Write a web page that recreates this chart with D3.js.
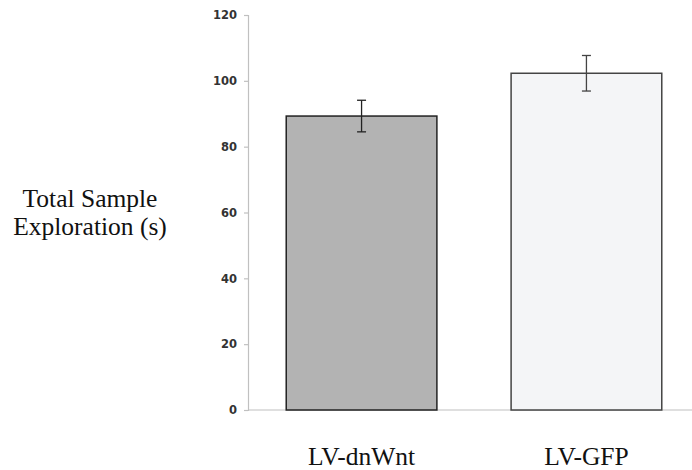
<!DOCTYPE html>
<html>
<head>
<meta charset="utf-8">
<script src="https://cdn.jsdelivr.net/npm/d3@7"></script>
<style>
  html, body { margin: 0; padding: 0; background: #fff; }
  svg { display: block; }
  .serif { font-family: "Liberation Serif", "Times New Roman", Times, serif; }
  .ticklab { font-family: "DejaVu Sans", Verdana, sans-serif; font-weight: bold; }
</style>
</head>
<body>
<svg id="chart" width="692" height="470"></svg>
<script>
// Exploration time per group, with error bars
const categories = ["LV-dnWnt", "LV-GFP"];
const means = [89.3, 102.3];
const errors = [4.8, 5.4];
const yTicks = [0, 20, 40, 60, 80, 100, 120];
const fills = ["#b3b3b3", "#f4f5f7"];
const strokes = ["#222222", "#444444"];

const svg = d3.select("#chart");
const x0 = 248, yTop = 15, yBottom = 410;

const y = d3.scaleLinear().domain([0, 120]).range([yBottom, yTop]);
const x = d3.scaleBand().domain(categories).range([x0, 700])
  .paddingInner(0.33).paddingOuter(0.17);

// Y axis
const yAxis = svg.append("g")
  .attr("transform", `translate(${x0},0)`)
  .call(d3.axisLeft(y).tickValues(yTicks).tickSize(4).tickPadding(7).tickFormat(d3.format("d")));
yAxis.attr("font-family", null).attr("font-size", null);
yAxis.select(".domain").attr("stroke", "#c0c0c0").attr("stroke-width", 1.2);
yAxis.selectAll(".tick line").attr("stroke", "#c0c0c0").attr("stroke-width", 1.2);
yAxis.selectAll(".tick text")
  .attr("class", "ticklab")
  .style("font-size", "11.5px")
  .attr("fill", "#333");

// Baseline
svg.append("line")
  .attr("x1", x0).attr("x2", 692)
  .attr("y1", y(0)).attr("y2", y(0))
  .attr("stroke", "#c0c0c0").attr("stroke-width", 1.2);

// Bars
svg.selectAll("rect.bar")
  .data(categories)
  .join("rect")
  .attr("class", "bar")
  .attr("x", d => x(d))
  .attr("width", x.bandwidth())
  .attr("y", (d, i) => y(means[i]))
  .attr("height", (d, i) => y(0) - y(means[i]))
  .attr("fill", (d, i) => fills[i])
  .attr("stroke", (d, i) => strokes[i])
  .attr("stroke-width", 1.5);

// Error bars
const cap = 4.5;
const eb = svg.selectAll("g.err").data(categories).join("g").attr("class", "err")
  .attr("stroke", (d, i) => strokes[i]).attr("stroke-width", 1.3);
eb.append("line")
  .attr("x1", d => x(d) + x.bandwidth() / 2).attr("x2", d => x(d) + x.bandwidth() / 2)
  .attr("y1", (d, i) => y(means[i] + errors[i])).attr("y2", (d, i) => y(means[i] - errors[i]));
eb.append("line")
  .attr("x1", d => x(d) + x.bandwidth() / 2 - cap).attr("x2", d => x(d) + x.bandwidth() / 2 + cap)
  .attr("y1", (d, i) => y(means[i] + errors[i])).attr("y2", (d, i) => y(means[i] + errors[i]));
eb.append("line")
  .attr("x1", d => x(d) + x.bandwidth() / 2 - cap).attr("x2", d => x(d) + x.bandwidth() / 2 + cap)
  .attr("y1", (d, i) => y(means[i] - errors[i])).attr("y2", (d, i) => y(means[i] - errors[i]));

// Category labels
svg.selectAll("text.cat").data(categories).join("text")
  .attr("class", "cat serif")
  .attr("x", d => x(d) + x.bandwidth() / 2)
  .attr("y", 465)
  .attr("text-anchor", "middle")
  .style("font-size", "25.5px")
  .attr("fill", "#111")
  .text(d => d);

// Y title
const title = svg.append("text")
  .attr("class", "serif")
  .attr("text-anchor", "middle")
  .style("font-size", "25.5px")
  .attr("fill", "#111");
title.append("tspan").attr("x", 90).attr("y", 207).text("Total Sample");
title.append("tspan").attr("x", 90).attr("y", 235).text("Exploration (s)");
</script>
</body>
</html>
